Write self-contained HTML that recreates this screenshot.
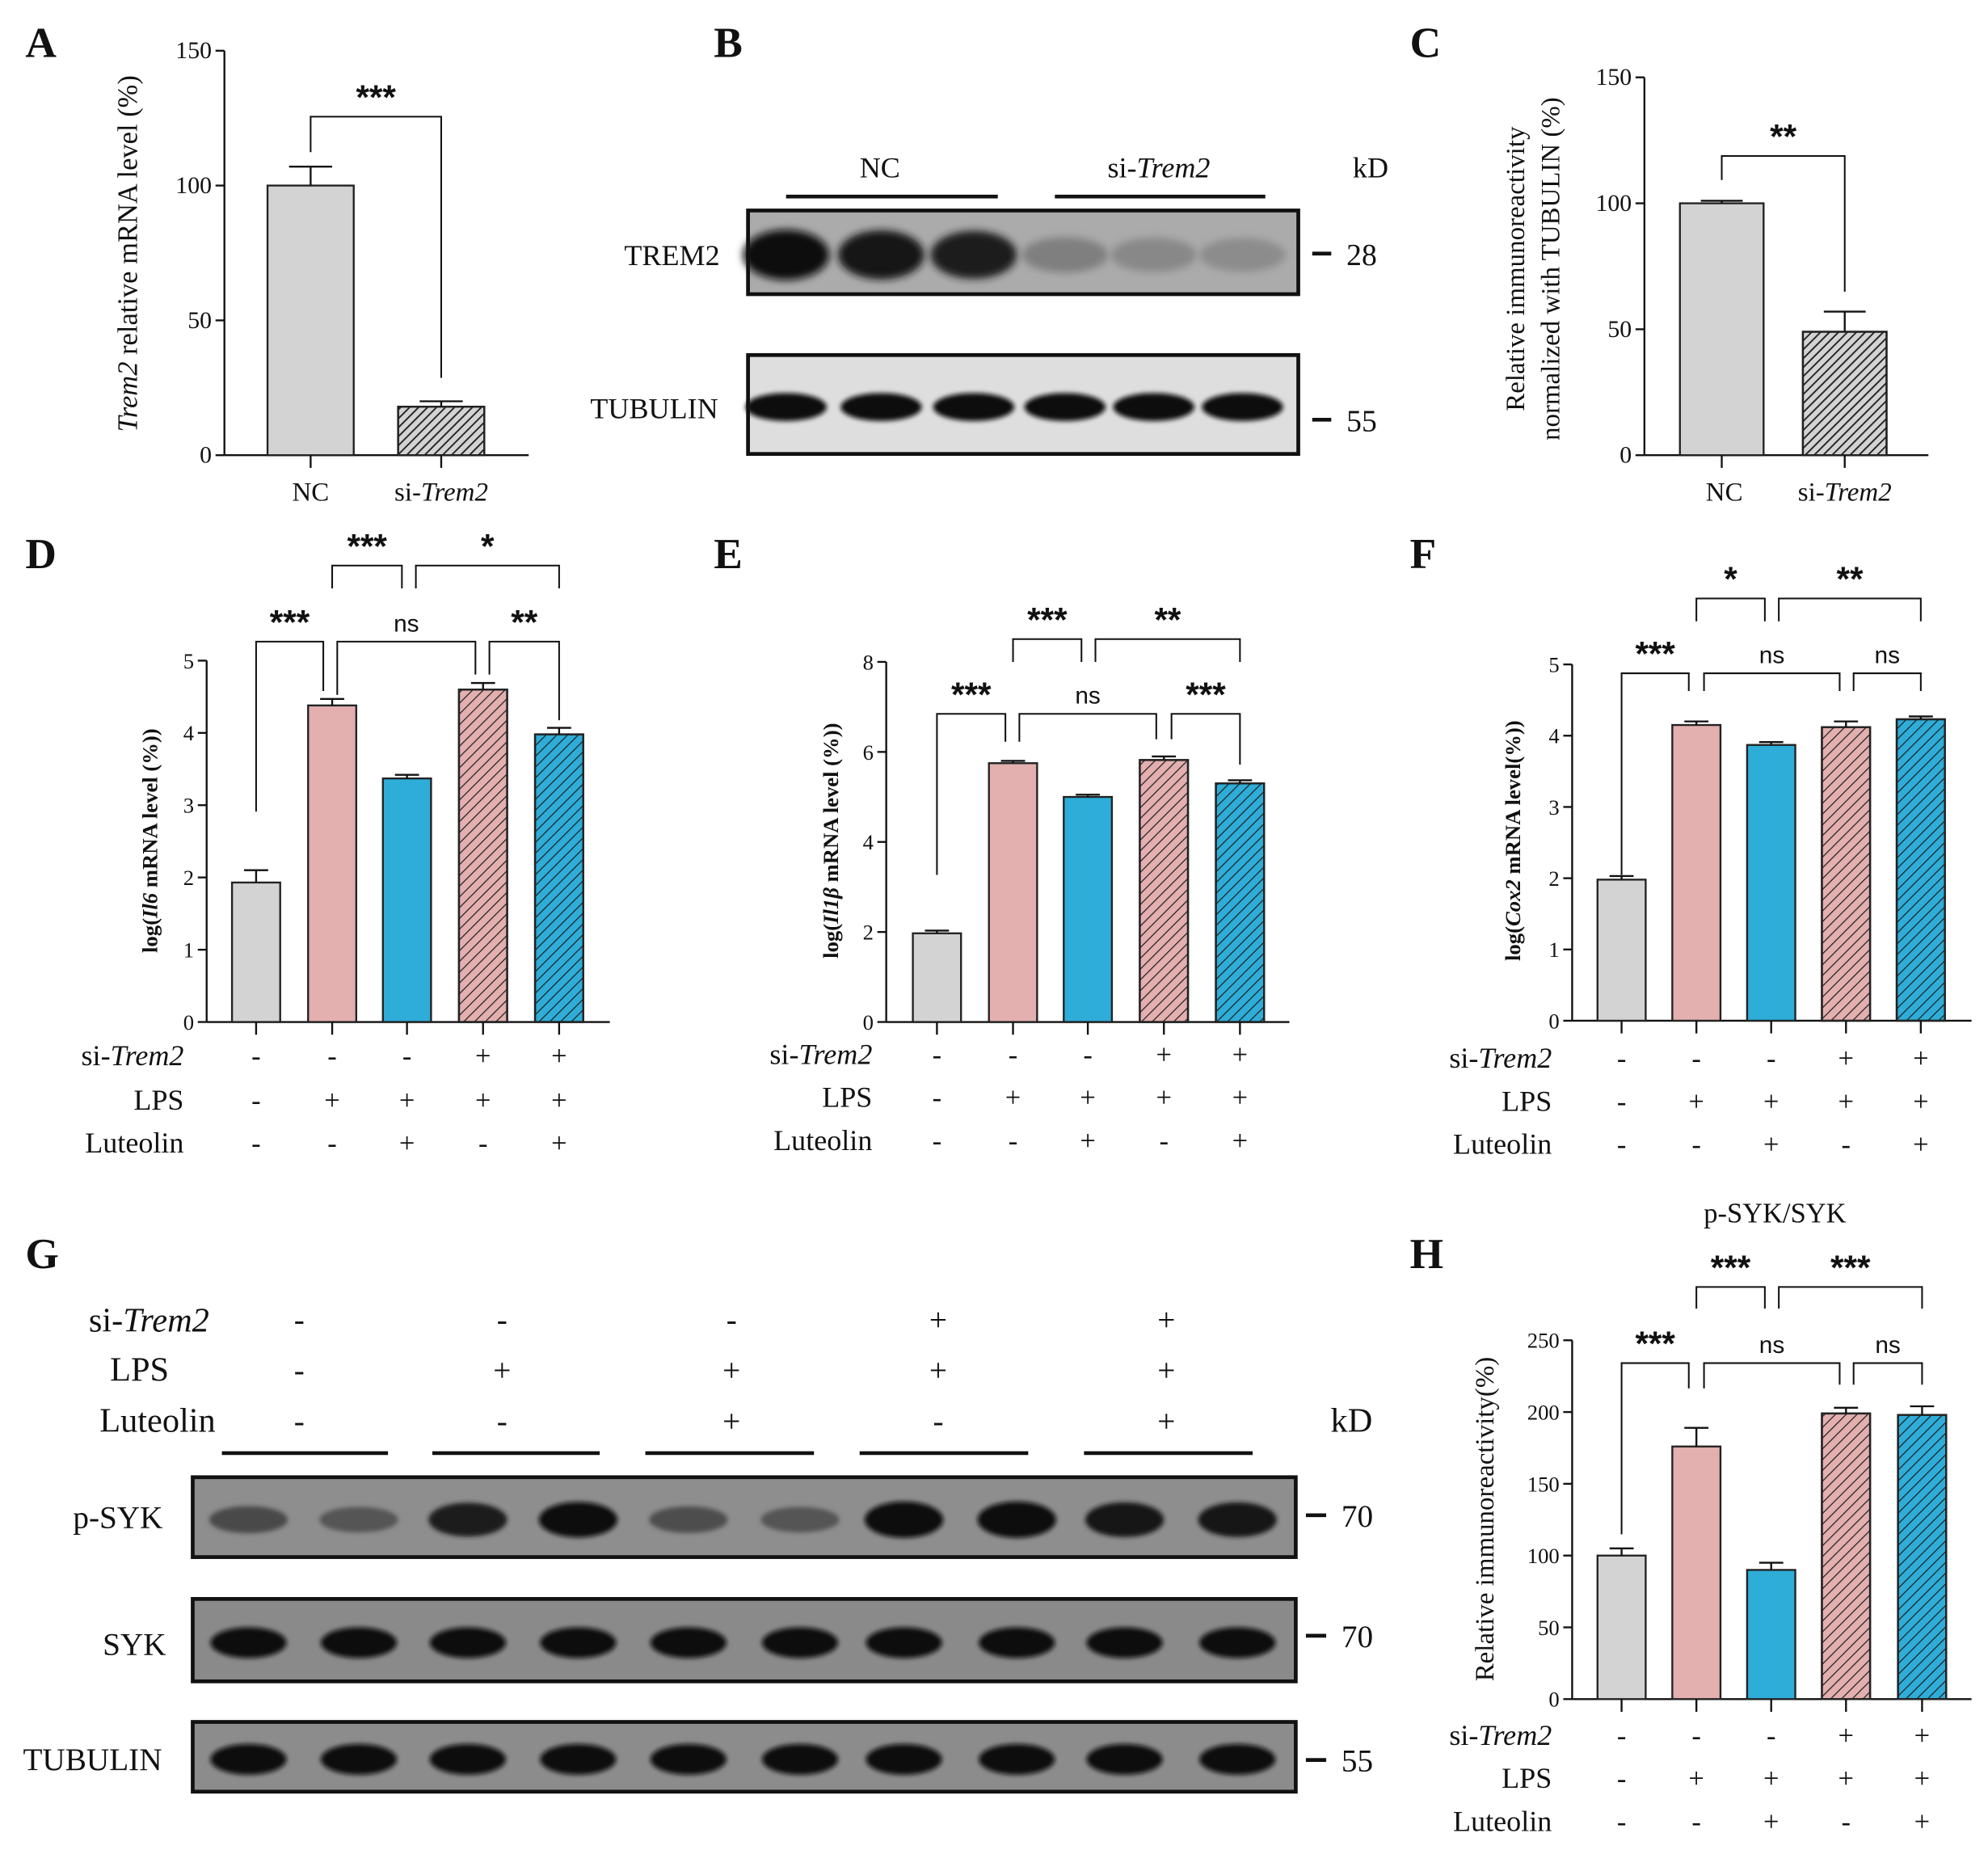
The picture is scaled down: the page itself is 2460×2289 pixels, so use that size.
<!DOCTYPE html>
<html><head><meta charset="utf-8"><style>
html,body{margin:0;padding:0;background:#fff;}
svg{display:block;}
text{font-family:"Liberation Serif",serif;fill:#111;}
.st{font-family:"Liberation Sans",sans-serif;font-weight:bold;}
.ns{font-family:"Liberation Sans",sans-serif;}
</style></head><body>
<svg id="fig" width="2460" height="2289" viewBox="0 0 1568 1459" xmlns="http://www.w3.org/2000/svg">
<defs>
<pattern id="hatch" patternUnits="userSpaceOnUse" width="6" height="6" patternTransform="rotate(45)">
<line x1="0" y1="0" x2="0" y2="6" stroke="#222" stroke-width="1.6"/>
</pattern>
<pattern id="hatchDark" patternUnits="userSpaceOnUse" width="5" height="5" patternTransform="rotate(45)">
<line x1="0" y1="0" x2="0" y2="5" stroke="#222" stroke-width="2.4"/>
</pattern>
<filter id="blur" x="-50%" y="-50%" width="200%" height="200%"><feGaussianBlur stdDeviation="3"/></filter>
<filter id="blur2" x="-50%" y="-50%" width="200%" height="200%"><feGaussianBlur stdDeviation="1.8"/></filter>
</defs>
<g id="root"></g>
</svg>
<script>
// ---- Data ----
const aCategories = ["NC","si-Trem2"];
const aValues = [100, 18];
const aErrors = [7, 2];
const cCategories = ["NC","si-Trem2"];
const cValues = [100, 49];
const cErrors = [1, 8];
const dValues = [1.93, 4.38, 3.37, 4.60, 3.98];
const dErrors = [0.17, 0.09, 0.05, 0.09, 0.09];
const eValues = [1.97, 5.75, 5.00, 5.82, 5.30];
const eErrors = [0.06, 0.05, 0.05, 0.08, 0.07];
const fValues = [1.98, 4.15, 3.87, 4.12, 4.23];
const fErrors = [0.05, 0.05, 0.04, 0.08, 0.04];
const hValues = [100, 176, 90, 199, 198];
const hErrors = [5, 13, 5, 4, 6];
const aTicks = [0,50,100,150];
const cTicks = [0,50,100,150];
const dTicks = [0,1,2,3,4,5];
const eTicks = [0,2,4,6,8];
const fTicks = [0,1,2,3,4,5];
const hTicks = [0,50,100,150,200,250];
const siTrem2Row = ["-","-","-","+","+"];
const lpsRow = ["-","+","+","+","+"];
const luteolinRow = ["-","-","+","-","+"];
const pSykIntensity = [0.45,0.35,0.85,0.95,0.42,0.35,1,1,0.9,0.9];
const trem2Intensity = [1,0.95,0.9,0.35,0.3,0.28];

const NS="http://www.w3.org/2000/svg";
const root=document.getElementById('root');
function el(tag,attrs,parent){const e=document.createElementNS(NS,tag);for(const k in attrs)e.setAttribute(k,attrs[k]);(parent||root).appendChild(e);return e;}
function txt(x,y,s,size,opts,parent){opts=opts||{};const t=el('text',{x:x,y:y,'font-size':size,'text-anchor':opts.anchor||'middle'},parent);if(opts.cls)t.setAttribute('class',opts.cls);if(opts.italic)t.setAttribute('font-style','italic');if(opts.weight)t.setAttribute('font-weight',opts.weight);if(opts.rot)t.setAttribute('transform','rotate(-90 '+x+' '+y+')');t.textContent=s;return t;}
function line(x1,y1,x2,y2,w,parent){return el('line',{x1:x1,y1:y1,x2:x2,y2:y2,stroke:'#111','stroke-width':w||1.5},parent);}

const fills=['#d3d3d3','#e3afaf','#2eadd8','#e3afaf','#2eadd8'];
const hatched=[false,false,false,true,true];

function barChart(cfg){
  const g=el('g',{});
  
  
  const ys=v=>cfg.y0-(v/cfg.max)*(cfg.y0-cfg.yTop);
  line(cfg.ax,cfg.y0,cfg.ax,cfg.yTop,1.5,g);
  line(cfg.ax,cfg.y0,cfg.xEnd,cfg.y0,1.5,g);
  cfg.ticks.forEach(t=>{const y=ys(t);line(cfg.ax-7,y,cfg.ax,y,1.5,g);txt(cfg.ax-10,y+6,String(t),cfg.tickSize||17,{anchor:'end'},g);});
  cfg.values.forEach((v,i)=>{
    const cx=cfg.centers[i],w=cfg.bw;const y=ys(v);
    const bar=el('rect',{x:cx-w/2,y:y,width:w,height:cfg.y0-y,fill:cfg.fills[i],stroke:'#222','stroke-width':1.5},g);
    
    
    if(cfg.hatched[i])el('rect',{x:cx-w/2,y:y,width:w,height:cfg.y0-y,fill:cfg.hatchFill||'url(#hatch)',stroke:'#222','stroke-width':1.5},g);
    const ey=ys(v+cfg.errors[i]);
    line(cx,y,cx,ey,1.5,g);line(cx-w/4,ey,cx+w/4,ey,1.5,g);
    if(cfg.xticks)line(cx,cfg.y0,cx,cfg.y0+10,1.5,g);
  });
  (cfg.brackets||[]).forEach(b=>{
    const p=el('polyline',{points:b.x1+','+b.l1+' '+b.x1+','+b.y+' '+b.x2+','+b.y+' '+b.x2+','+b.l2,fill:'none',stroke:'#111','stroke-width':1.3},g);
    
    
    const isNs=b.s==='ns';
    txt((b.x1+b.x2)/2,b.y-(isNs?8:2)+(isNs?0:b.sOff||0),b.s,isNs?19:27,{cls:isNs?'ns':'st'},g);
  });
  return g;
}
function rows(cfg){
  const g=el('g',{});
  
  
  const labs=[['si-','Trem2'],['LPS'],['Luteolin']];
  const data=[siTrem2Row,lpsRow,luteolinRow];
  labs.forEach((l,r)=>{
    const y=cfg.ys[r];
    const t=el('text',{x:cfg.lx,y:y+7,'font-size':cfg.fs||23,'text-anchor':'end'},g);
    const s1=el('tspan',{},t);s1.textContent=l[0];
    if(l[1]){const s2=el('tspan',{'font-style':'italic'},t);s2.textContent=l[1];}
    data[r].forEach((s,i)=>txt(cfg.centers[i],y+7,s,22,{},g));
  });
}
// panel letters
[['A',20,45],['B',563,45],['C',1112,45],['D',20,448],['E',563,448],['F',1112,448],['G',20,1000],['H',1112,1000]].forEach(p=>{const t=txt(p[1],p[2],p[0],34,{anchor:'start',weight:'bold'});});

// A
barChart({name:'chart-a',ax:177,y0:359,yTop:40,max:150,xEnd:417,ticks:aTicks,values:aValues,errors:aErrors,centers:[245,348],bw:68,fills:['#d3d3d3','#d3d3d3'],hatched:[false,true],hatchFill:'url(#hatchDark)',tickSize:19,xticks:true,
 brackets:[{x1:245,x2:348,y:92,l1:120,l2:298,s:'***',sOff:-4}]});
txt(245,395,'NC',21);
(function(){const t=el('text',{x:348,y:395,'font-size':21,'text-anchor':'middle'});const a=el('tspan',{},t);a.textContent='si-';const b=el('tspan',{'font-style':'italic'},t);b.textContent='Trem2';})();
(function(){const t=el('text',{x:108,y:200,'font-size':22,'text-anchor':'middle',transform:'rotate(-90 108 200)'});const a=el('tspan',{'font-style':'italic'},t);a.textContent='Trem2';const b=el('tspan',{},t);b.textContent=' relative mRNA level (%)';})();

// C
barChart({name:'chart-c',ax:1297,y0:359,yTop:61,max:150,xEnd:1521,ticks:cTicks,values:cValues,errors:cErrors,centers:[1358,1455],bw:66,fills:['#d3d3d3','#d3d3d3'],hatched:[false,true],hatchFill:'url(#hatchDark)',tickSize:19,xticks:true,
 brackets:[{x1:1358,x2:1455,y:123,l1:142,l2:230,s:'**',sOff:-4}]});
txt(1360,395,'NC',21);
(function(){const t=el('text',{x:1455,y:395,'font-size':21,'text-anchor':'middle'});const a=el('tspan',{},t);a.textContent='si-';const b=el('tspan',{'font-style':'italic'},t);b.textContent='Trem2';})();
txt(1202,212,'Relative immunoreactivity',21,{rot:true});
txt(1230,212,'normalized with TUBULIN (%)',21,{rot:true});

// D
const dC=[202,262,321,381,441];
barChart({name:'chart-d',ax:163,y0:806,yTop:521,max:5,xEnd:481,ticks:dTicks,values:dValues,errors:dErrors,centers:dC,bw:38,fills:fills,hatched:hatched,xticks:true,
 brackets:[{x1:202,x2:255,y:506,l1:640,l2:545,s:'***',sOff:-4},{x1:266,x2:375,y:506,l1:548,l2:532,s:'ns'},{x1:386,x2:441,y:506,l1:532,l2:568,s:'**',sOff:-4},
 {x1:262,x2:317,y:446,l1:464,l2:464,s:'***',sOff:-4},{x1:328,x2:441,y:446,l1:464,l2:464,s:'*',sOff:-4}]});
(function(){const t=el('text',{x:124,y:663,'font-size':17,'font-weight':'bold','text-anchor':'middle',transform:'rotate(-90 124 663)'});const a=el('tspan',{},t);a.textContent='log(';const b=el('tspan',{'font-style':'italic'},t);b.textContent='Il6';const c=el('tspan',{},t);c.textContent=' mRNA level (%))';})();
rows({name:'condition-table-d',lx:145,ys:[833,868,902],centers:dC});

// E
const eC=[739,799,858,918,978];
barChart({name:'chart-e',ax:699,y0:806,yTop:522,max:8,xEnd:1017,ticks:eTicks,values:eValues,errors:eErrors,centers:eC,bw:38,fills:fills,hatched:hatched,xticks:true,
 brackets:[{x1:739,x2:793,y:563,l1:690,l2:585,s:'***',sOff:-4},{x1:804,x2:912,y:563,l1:585,l2:583,s:'ns'},{x1:924,x2:978,y:563,l1:583,l2:603,s:'***',sOff:-4},
 {x1:799,x2:853,y:504,l1:522,l2:522,s:'***',sOff:-4},{x1:864,x2:978,y:504,l1:522,l2:522,s:'**',sOff:-4}]});
(function(){const t=el('text',{x:661,y:663,'font-size':17,'font-weight':'bold','text-anchor':'middle',transform:'rotate(-90 661 663)'});const a=el('tspan',{},t);a.textContent='log(';const b=el('tspan',{'font-style':'italic'},t);b.textContent='Il1β';const c=el('tspan',{},t);c.textContent=' mRNA level (%))';})();
rows({name:'condition-table-e',lx:688,ys:[832,866,900],centers:eC});

// F
const fC=[1279,1338,1397,1456,1515];
barChart({name:'chart-f',ax:1240,y0:805,yTop:524,max:5,xEnd:1555,ticks:fTicks,values:fValues,errors:fErrors,centers:fC,bw:38,fills:fills,hatched:hatched,xticks:true,
 brackets:[{x1:1279,x2:1332,y:531,l1:690,l2:545,s:'***',sOff:-4},{x1:1344,x2:1451,y:531,l1:545,l2:545,s:'ns'},{x1:1462,x2:1515,y:531,l1:545,l2:545,s:'ns'},
 {x1:1338,x2:1392,y:472,l1:490,l2:490,s:'*',sOff:-4},{x1:1403,x2:1515,y:472,l1:490,l2:490,s:'**',sOff:-4}]});
(function(){const t=el('text',{x:1199,y:663,'font-size':17,'font-weight':'bold','text-anchor':'middle',transform:'rotate(-90 1199 663)'});const a=el('tspan',{},t);a.textContent='log(';const b=el('tspan',{'font-style':'italic'},t);b.textContent='Cox2';const c=el('tspan',{},t);c.textContent=' mRNA level(%))';})();
rows({name:'condition-table-f',lx:1224,ys:[835,869,903],centers:fC});

// H
const hC=[1279,1338,1397,1456,1516];
barChart({name:'chart-h',ax:1240,y0:1340,yTop:1057,max:250,xEnd:1555,ticks:hTicks,values:hValues,errors:hErrors,centers:hC,bw:38,fills:fills,hatched:hatched,xticks:true,
 brackets:[{x1:1279,x2:1332,y:1075,l1:1210,l2:1095,s:'***',sOff:-4},{x1:1344,x2:1451,y:1075,l1:1095,l2:1092,s:'ns'},{x1:1462,x2:1516,y:1075,l1:1092,l2:1092,s:'ns'},
 {x1:1338,x2:1392,y:1015,l1:1032,l2:1032,s:'***',sOff:-4},{x1:1403,x2:1516,y:1015,l1:1032,l2:1032,s:'***',sOff:-4}]});
txt(1400,964,'p-SYK/SYK',22);
txt(1178,1198,'Relative immunoreactivity(%)',21,{rot:true});
rows({name:'condition-table-h',lx:1224,ys:[1369,1403,1437],centers:hC});

// Blots
function blot(name,x,y,w,h,bg,centers,intens,bw,bh,filter,base){
  const g=el('g',{});
  el('rect',{x:x,y:y,width:w,height:h,fill:bg},g);
  centers.forEach((c,i)=>{const v=intens[i];const gray=Math.round(base-(base-10)*v);
    el('ellipse',{cx:c,cy:y+h/2+2,rx:bw/2,ry:bh/2*(0.6+0.5*v),fill:'rgb('+gray+','+gray+','+gray+')',filter:filter},g);});
  el('rect',{x:x,y:y,width:w,height:h,fill:'none',stroke:'#111','stroke-width':3},g);
}
const bC=[620,695,768,840,910,980];
blot('blot-trem2',590,166,434,66,'#ababab',bC,trem2Intensity,68,36,'url(#blur)',190);
blot('blot-tubulin-b',590,280,434,78,'#dedede',bC,[1,1,1,1,1,1],64,20,'url(#blur2)',200);
txt(530,209,'TREM2',23);txt(516,330,'TUBULIN',23);
line(620,155,787,155,3);line(832,155,998,155,3);
txt(694,140,'NC',23);
(function(){const t=el('text',{x:914,y:140,'font-size':23,'text-anchor':'middle'});const a=el('tspan',{},t);a.textContent='si-';const b=el('tspan',{'font-style':'italic'},t);b.textContent='Trem2';})();
txt(1081,140,'kD',23);
line(1035,200,1050,200,3);txt(1062,209,'28',24,{anchor:'start'});
line(1035,331,1050,331,3);txt(1062,340,'55',24,{anchor:'start'});

const gC=[196,283,369,456,543,631,713,802,887,976];
blot('blot-psyk',152,1165,870,63,'#8e8e8e',gC,pSykIntensity,62,26,'url(#blur2)',125);
blot('blot-syk',152,1261,870,65,'#8a8a8a',gC,[1,1,1,1,1,1,1,1,1,1],60,22,'url(#blur2)',125);
blot('blot-tubulin-g',152,1358,870,55,'#8c8c8c',gC,[1,1,1,1,1,1,1,1,1,1],60,22,'url(#blur2)',125);
txt(93,1205,'p-SYK',25);txt(106,1305,'SYK',25);txt(73,1396,'TUBULIN',25);
[[175,306],[341,473],[509,642],[678,811],[855,988]].forEach(s=>line(s[0],1146,s[1],1146,3));
(function(){const t=el('text',{x:165,y:1050,'font-size':27,'text-anchor':'end'});const a=el('tspan',{},t);a.textContent='si-';const b=el('tspan',{'font-style':'italic'},t);b.textContent='Trem2';})();
txt(110,1089,'LPS',27);txt(170,1129,'Luteolin',27,{anchor:'end'});
const gS=[236,396,577,740,920];
[[siTrem2Row,1049],[lpsRow,1089],[luteolinRow,1129]].forEach(r=>r[0].forEach((s,i)=>txt(gS[i],r[1],s,25)));
txt(1066,1129,'kD',27);
line(1030,1195,1046,1195,3);txt(1058,1204,'70',25,{anchor:'start'});
line(1030,1290,1046,1290,3);txt(1058,1299,'70',25,{anchor:'start'});
line(1030,1388,1046,1388,3);txt(1058,1397,'55',25,{anchor:'start'});
</script>
</body></html>
